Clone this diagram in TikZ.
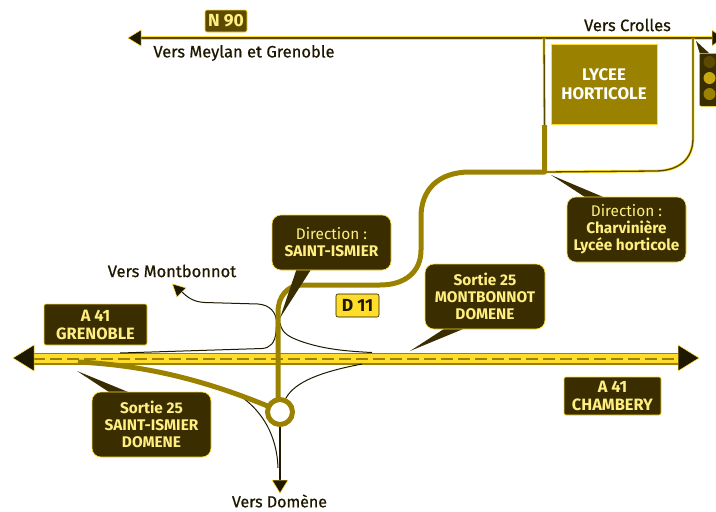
\documentclass[tikz,border=0pt]{standalone}
\usepackage{fontspec}
\setmainfont{Fira Sans}
\newfontfamily\heavyfont[FakeBold=0.7]{Fira Sans}
\usetikzlibrary{calc}
\definecolor{dk}{HTML}{3A2E00}
\definecolor{gold}{HTML}{9A8200}
\definecolor{olive}{HTML}{5C4A00}
\definecolor{ylw}{HTML}{FFDD2A}
\definecolor{txty}{HTML}{FFEE80}
\definecolor{blk}{HTML}{1E1800}
\tikzset{
  x=1pt,y=-1pt,
  bubble/.style={fill=dk,draw=ylw,line width=.6pt,rounded corners=9pt,text=txty,align=center,inner sep=0pt,font=\fontsize{15.4}{17}\selectfont},
  plate/.style={bubble,rounded corners=2pt,font=\fontsize{16.4}{18}\selectfont},
  label/.style={text=blk,inner sep=0pt,font=\heavyfont\fontsize{16.5}{18}\selectfont},
  thinroad/.style={draw=blk,line width=1pt,line join=round},
  thickroad/.style={draw=gold,line width=5pt,line join=round},
  tail/.style={fill=dk},
  head/.style={fill=blk,draw=ylw,line width=.5pt},
  lamp/.style={circle,inner sep=0pt,minimum size=12pt},
}
\begin{document}
\begin{tikzpicture}
\useasboundingbox (0,0) rectangle (716,512);
\clip (0,0) rectangle (716,512);
% named points
\coordinate (wN) at (140,38); \coordinate (eN) at (716,38);
\coordinate (wA) at (33,358.5); \coordinate (eA) at (679,358.5);
\coordinate (junc) at (544,38); \coordinate (thickTop) at (544.5,125); \coordinate (thickCorner) at (544.5,172);
\coordinate (turnE) at (693,38);
\node[circle,inner sep=0pt,minimum size=0pt] (rb) at (280,412) {};
% N90 road
\draw[ylw,line width=3.4pt] (wN) -- (eN);
\draw[blk!55!gold,line width=1.5pt] (wN) -- (eN);
\fill[head] (128,38) -- (141,30) -- (141,46) -- cycle;
\fill[head] (712,30) -- (722,38) -- (712,46) -- cycle;
% right side lane
\draw[ylw,line width=2.8pt] (turnE) -- (693,138) .. controls (693,160) and (678,171) .. (655,171) -- (thickCorner);
\draw[blk!55!gold,line width=1.3pt] (turnE) -- (693,138) .. controls (693,160) and (678,171) .. (655,171) -- (thickCorner);
\draw[ylw,line width=2.8pt] (junc) -- (thickTop);
\draw[blk!55!gold,line width=1.3pt] (junc) -- (thickTop);
% highway
\draw[gold,line width=12pt] (wA) -- (eA);
\draw[ylw,line width=9pt] (wA) -- (eA);
\draw[gold,line width=2pt,dash pattern=on 12pt off 5pt] (wA) -- (eA);
\fill[head] (13,358) -- (34,345) -- (34,371) -- cycle;
\fill[head] (699,358) -- (678,345) -- (678,371) -- cycle;
% thin ramps
\coordinate (mb) at (181,291);
\draw[thinroad] (mb) .. controls (188,298) and (194,302) .. (205,302.5) -- (258,304)
  .. controls (270,305) and (276,312) .. (276.5,322) -- (276,332)
  .. controls (275,343) and (270,348) .. (262,348.5) -- (120,353);
\fill[head] (172.5,284) -- (186,288) -- (177,297) -- cycle;
\draw[thinroad] (280,323) .. controls (282,334) and (290,337) .. (300,341) .. controls (320,348) and (340,351) .. (372,352.5);
\draw[thinroad] (286,398) .. controls (295,382) and (320,372) .. (362,364);
\draw[thinroad] (243,398) .. controls (262,412) and (277,435) .. (278,468);
% thick road
\draw[thickroad] (thickTop) -- (thickCorner) -- (470,172) .. controls (438,172) and (421,190) .. (421,217)
  -- (421,250) .. controls (421,272) and (405,285) .. (380,285) -- (302,285)
  .. controls (288,285) and (278,296) .. (278,312) -- (278,400);
\draw[thickroad,line join=round] (78,362) .. controls (140,365) and (200,378) .. (270,407);
% roundabout
\draw[blk,line width=1.4pt,-] (rb) ++(0,12) -- (280,481);
\fill[head] (280,493) -- (272,480) -- (288,480) -- cycle;
\draw[gold,line width=5pt,fill=white] (rb) circle[radius=12.5];
% lycee
\node[fill=gold,draw=ylw,line width=.5pt,minimum width=106pt,minimum height=80pt,inner sep=0pt,text=white,align=center,font=\fontsize{16.8}{19}\selectfont\bfseries] (lyc) at (604,84) {LYCEE\\HORTICOLE};
% traffic light
\fill[tail] (696,41) -- (700,54) -- (710,54) -- cycle;
\node[fill=dk,draw=ylw,line width=.5pt,rounded corners=2pt,minimum width=30pt,minimum height=53pt,inner sep=0pt,anchor=north west] (tl) at (699,53) {};
\node[lamp,fill=olive] (l1) at (709.5,62) {};
\node[lamp,fill={rgb,255:red,200;green,168;blue,16}] (l2) at (709.5,78) {};
\node[lamp,fill=gold] (l3) at (709.5,94) {};
% bubbles with tails
\fill[tail] (297,268) -- (312,268) -- (280,318) -- cycle;
\node[bubble,minimum width=119pt,minimum height=55pt] (dsi) at (331.5,242.5) {Direction :\\\textbf{SAINT-ISMIER}};
\fill[tail] (447,327) -- (468,327) -- (410,351) -- cycle;
\node[bubble,minimum width=120pt,minimum height=65pt] (smd) at (485,296.5) {\textbf{Sortie 25}\\\textbf{MONTBONNOT}\\\textbf{DOMENE}};
\fill[tail] (588,199) -- (608,199) -- (551,175) -- cycle;
\node[bubble,minimum width=119pt,minimum height=65pt] (dch) at (626.5,229.5) {Direction :\\\textbf{Charvinière}\\\textbf{Lycée horticole}};
\fill[tail] (112,394) -- (133,394) -- (77,371) -- cycle;
\node[bubble,minimum width=119pt,minimum height=65pt] (ssi) at (151.5,424.5) {\textbf{Sortie 25}\\\textbf{SAINT-ISMIER}\\\textbf{DOMENE}};
% plates
\node[plate,minimum width=103pt,minimum height=41pt] (agr) at (95.5,324.5) {\textbf{A 41}\\\textbf{GRENOBLE}};
\node[plate,minimum width=97pt,minimum height=38pt] (ach) at (612.5,396) {\textbf{A 41}\\\textbf{CHAMBERY}};
\node[plate,fill=olive,minimum width=42pt,minimum height=22pt,font=\fontsize{17.5}{18}\selectfont\bfseries,text=txty] (n90) at (226,21) {N 90};
\node[plate,fill=ylw,draw=blk,text=blk,minimum width=43pt,minimum height=23pt,font=\fontsize{17.5}{18}\selectfont\bfseries] (d11) at (357.5,305.5) {D 11};
% labels
\node[label] (lmg) at (244,53) {Vers Meylan et Grenoble};
\node[label] (lcr) at (627.5,25) {Vers Crolles};
\node[label] (lmo) at (172,271) {Vers Montbonnot};
\node[label,font=\heavyfont\fontsize{16}{18}\selectfont] (ldo) at (279.5,501) {Vers Domène};
\end{tikzpicture}
\end{document}
